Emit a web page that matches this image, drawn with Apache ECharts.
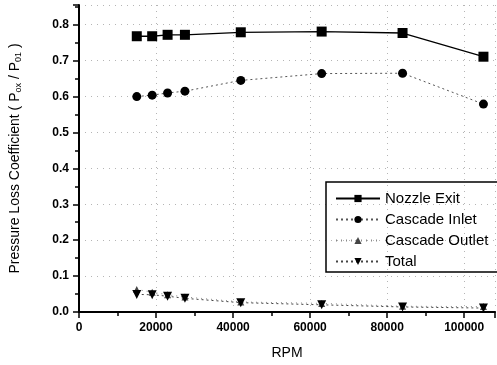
<!DOCTYPE html>
<html>
<head>
<meta charset="utf-8">
<script src="https://cdn.jsdelivr.net/npm/echarts@6/dist/echarts.min.js"></script>
<style>
  html, body { margin: 0; padding: 0; background: #fff; }
  #chart { width: 497px; height: 365px; }
</style>
</head>
<body>
<div id="chart"></div>
<script>
const rpm = [15000, 19000, 23000, 27500, 42000, 63000, 84000, 105000];
const nozzleExit = [0.768, 0.768, 0.772, 0.772, 0.779, 0.781, 0.777, 0.711];
const cascadeInlet = [0.600, 0.604, 0.610, 0.615, 0.645, 0.664, 0.665, 0.579];
const cascadeOutlet = [0.063, 0.055, 0.048, 0.042, 0.028, 0.024, 0.016, 0.015];
const total = [0.049, 0.048, 0.044, 0.038, 0.026, 0.020, 0.014, 0.011];

const font = "Liberation Sans, Arial, sans-serif";
const pairs = (ys) => rpm.map((x, i) => [x, ys[i]]);

const chart = echarts.init(document.getElementById("chart"));

const axisCommon = {
  axisLine: { lineStyle: { color: "#000", width: 2 } },
  axisTick: { inside: false, length: 6, lineStyle: { color: "#000", width: 1.5 } },
  minorTick: { show: true, splitNumber: 2, length: 4, lineStyle: { color: "#000", width: 1.5 } },
  splitLine: { show: true, lineStyle: { color: "#b5b5b5", type: [1, 5], width: 1 } },
  axisLabel: { color: "#000", fontFamily: font, fontWeight: "bold", fontSize: 12, showMaxLabel: false }
};

chart.setOption({
  animation: false,
  grid: { left: 74, right: 2, top: 5, bottom: 46 },
  xAxis: Object.assign({}, axisCommon, {
    type: "value",
    min: 0,
    max: 108000,
    interval: 20000,
    name: "RPM",
    nameLocation: "middle",
    nameGap: 34,
    nameTextStyle: { color: "#000", fontFamily: font, fontSize: 14 },
    axisLabel: Object.assign({}, axisCommon.axisLabel, {
      margin: 10,
      formatter: (v) => String(v)
    })
  }),
  yAxis: Object.assign({}, axisCommon, {
    type: "value",
    min: 0,
    max: 0.855,
    interval: 0.1,
    name: "Pressure Loss Coefficient ( P{sub|ox} / P{sub|01} )",
    nameLocation: "middle",
    nameGap: 56,
    nameTextStyle: {
      color: "#000", fontFamily: font, fontSize: 14,
      rich: {
        sub: { fontFamily: font, fontSize: 9, color: "#000", verticalAlign: "bottom", padding: [7, 0, 0, 0] }
      }
    },
    axisLabel: Object.assign({}, axisCommon.axisLabel, {
      margin: 10,
      formatter: (v) => v.toFixed(1)
    })
  }),
  legend: {
    left: 326,
    top: 182,
    orient: "vertical",
    itemWidth: 44,
    itemHeight: 9,
    itemGap: 6,
    padding: [9, 30, 3, 9],
    borderColor: "#000",
    borderWidth: 1.5,
    textStyle: { color: "#000", fontFamily: font, fontSize: 15, lineHeight: 14 },
    data: ["Nozzle Exit", "Cascade Inlet", "Cascade Outlet", "Total"]
  },
  series: [
    {
      name: "Nozzle Exit",
      type: "line",
      data: pairs(nozzleExit),
      symbol: "rect",
      symbolSize: 10,
      itemStyle: { color: "#000" },
      lineStyle: { color: "#000", width: 1.3 }
    },
    {
      name: "Cascade Inlet",
      type: "line",
      data: pairs(cascadeInlet),
      symbol: "circle",
      symbolSize: 9,
      itemStyle: { color: "#000" },
      lineStyle: { color: "#555", width: 1, type: [2, 3] }
    },
    {
      name: "Cascade Outlet",
      type: "line",
      data: pairs(cascadeOutlet),
      symbol: "triangle",
      symbolSize: 7,
      itemStyle: { color: "#444" },
      lineStyle: { color: "#888", width: 1, type: [1, 4] }
    },
    {
      name: "Total",
      type: "line",
      data: pairs(total),
      symbol: "triangle",
      symbolRotate: 180,
      symbolSize: 9,
      itemStyle: { color: "#000" },
      lineStyle: { color: "#444", width: 1, type: [2, 3] }
    }
  ]
});
</script>
</body>
</html>
